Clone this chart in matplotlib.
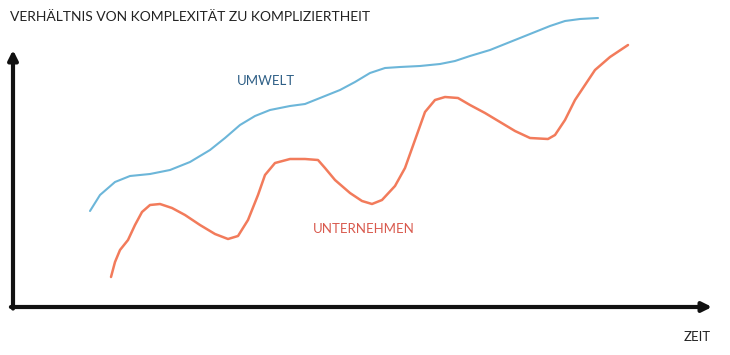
import matplotlib.pyplot as plt

# readings: time vs. level (units = pixels from origin)
umwelt_t = [77, 87, 102, 117, 137, 157, 177, 197, 212, 227, 242, 257, 277, 292, 307,
            327, 342, 357, 372, 387, 407, 427, 442, 457, 477, 497, 517, 537, 552, 567, 585]
umwelt_v = [96, 112, 125, 131, 133, 137, 145, 157, 169, 182, 191, 197, 201, 203, 209,
            217, 225, 234, 239, 240, 241, 243, 246, 251, 257, 265, 273, 281, 286, 288, 289]

firma_t = [98, 102, 107, 115, 122, 129, 137, 147, 159, 172, 187, 202, 215, 225, 235,
           245, 252, 262, 277, 292, 305, 312, 322, 337, 349, 359, 369, 382, 392, 402,
           412, 422, 432, 445, 457, 472, 487, 502, 517, 535, 542, 552, 562, 572, 582,
           597, 609, 615]
firma_v = [30, 45, 57, 67, 82, 95, 102, 103, 99, 92, 82, 73, 68, 71, 87,
           112, 132, 144, 148, 148, 147, 139, 127, 114, 106, 103, 107, 121, 139, 167,
           195, 207, 210, 209, 202, 194, 185, 176, 169, 168, 172, 187, 207, 222, 237,
           250, 258, 262]

title = "VERHÄLTNIS VON KOMPLEXITÄT ZU KOMPLIZIERTHEIT"
x_label = "ZEIT"

plt.rcParams['font.family'] = ['Lato', 'DejaVu Sans']

W, H = 730, 355
fig = plt.figure(figsize=(W / 100, H / 100), dpi=100)
ox, oy = 13, 307          # origin in pixels
xw, yh = 699, 257
ax = fig.add_axes([ox / W, (H - oy) / H, xw / W, yh / H])
ax.set_xlim(0, xw)
ax.set_ylim(0, yh)
ax.axis('off')

ax.plot(umwelt_t, umwelt_v, color='#6cb6d9', lw=1.5, solid_capstyle='round',
        solid_joinstyle='round', clip_on=False)
ax.plot(firma_t, firma_v, color='#f27b5b', lw=1.8, solid_capstyle='round',
        solid_joinstyle='round', clip_on=False)

ax.text(253, 226, "UMWELT", color='#2e5f86', fontsize=9.5, ha='center', va='center')
ax.text(351, 78, "UNTERNEHMEN", color='#d95a4e', fontsize=9.5, ha='center', va='center')

arrow = dict(arrowstyle='-|>', lw=3, color='#111111', mutation_scale=14,
             shrinkA=0, shrinkB=0)
ax.annotate('', xy=(1, 0), xytext=(-0.003, 0), xycoords='axes fraction',
            arrowprops=arrow, annotation_clip=False)
ax.annotate('', xy=(0, 1), xytext=(0, -0.006), xycoords='axes fraction',
            arrowprops=arrow, annotation_clip=False)

fig.text(10 / W, 1 - 17 / H, title, fontsize=10, color='#222222', va='center', ha='left')
fig.text(711 / W, 1 - 337 / H, x_label, fontsize=9.5, color='#222222', va='center', ha='right')

fig.savefig('out.png', dpi=100, facecolor='white')
